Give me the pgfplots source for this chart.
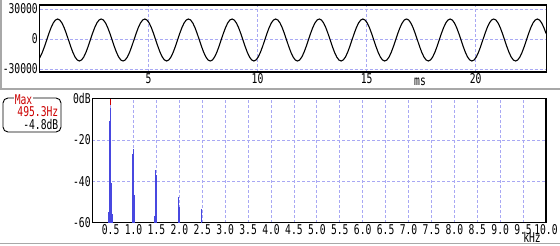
\documentclass[border=0pt]{standalone}
\usepackage{pgfplots}
\pgfplotsset{compat=1.18}
\usepackage{fontspec}
\newfontfamily\gfont{DejaVu Sans Mono}[FakeStretch=0.72]
\newcommand\lbl{\fontsize{13.5}{15}\gfont}
\definecolor{gridc}{HTML}{A8A8F4}
\definecolor{specc}{HTML}{4848E0}
\definecolor{maxred}{HTML}{CC0000}
\definecolor{panelg}{HTML}{A8A8A8}
\begin{document}
\begin{tikzpicture}
\fill[white] (0bp,0bp) rectangle (560bp,246bp);
\draw[panelg,line width=2bp] (0bp,156.5bp) -- (560bp,156.5bp);
\draw[panelg,line width=1.5bp] (0bp,2.5bp) -- (560bp,2.5bp);
\draw[panelg,line width=1.5bp] (0.75bp,156bp) -- (0.75bp,246bp);
% ---------- waveform ----------
\begin{axis}[
  at={(39.5bp,174bp)}, anchor=south west,
  scale only axis, width=507bp, height=67bp,
  xmin=0, xmax=23.25, ymin=-33000, ymax=34000,
  xtick={5,10,15,20}, xticklabels={5,10,15,20},
  ytick={-30000,0,30000}, yticklabels={-30000,0,30000},
  scaled ticks=false,
  tick style={draw=none},
  grid=major,
  major grid style={gridc, dash pattern=on 3bp off 2bp, line width=0.8bp},
  axis line style={line width=1.2bp},
  every tick label/.append style={font=\lbl, inner sep=1.5bp},
]
\addplot[black, line width=1.1bp] coordinates {
(0,-19080)
(0.03,-17990)(0.13,-13340)(0.23,-7490)(0.33,-1000)(0.43,5490)(0.53,11340)(0.63,15990)(0.73,18970)(0.83,20000)(0.93,18970)(1.03,15990)(1.13,11340)(1.23,5490)(1.33,-1000)(1.43,-7490)(1.53,-13340)(1.63,-17990)(1.73,-20970)(1.83,-22000)(1.93,-20970)
(2.03,-17990)(2.13,-13340)(2.23,-7490)(2.33,-1000)(2.43,5490)(2.53,11340)(2.63,15990)(2.73,18970)(2.83,20000)(2.93,18970)(3.03,15990)(3.13,11340)(3.23,5490)(3.33,-1000)(3.43,-7490)(3.53,-13340)(3.63,-17990)(3.73,-20970)(3.83,-22000)(3.93,-20970)
(4.03,-17990)(4.13,-13340)(4.23,-7490)(4.33,-1000)(4.43,5490)(4.53,11340)(4.63,15990)(4.73,18970)(4.83,20000)(4.93,18970)(5.03,15990)(5.13,11340)(5.23,5490)(5.33,-1000)(5.43,-7490)(5.53,-13340)(5.63,-17990)(5.73,-20970)(5.83,-22000)(5.93,-20970)
(6.03,-17990)(6.13,-13340)(6.23,-7490)(6.33,-1000)(6.43,5490)(6.53,11340)(6.63,15990)(6.73,18970)(6.83,20000)(6.93,18970)(7.03,15990)(7.13,11340)(7.23,5490)(7.33,-1000)(7.43,-7490)(7.53,-13340)(7.63,-17990)(7.73,-20970)(7.83,-22000)(7.93,-20970)
(8.03,-17990)(8.13,-13340)(8.23,-7490)(8.33,-1000)(8.43,5490)(8.53,11340)(8.63,15990)(8.73,18970)(8.83,20000)(8.93,18970)(9.03,15990)(9.13,11340)(9.23,5490)(9.33,-1000)(9.43,-7490)(9.53,-13340)(9.63,-17990)(9.73,-20970)(9.83,-22000)(9.93,-20970)
(10.03,-17990)(10.13,-13340)(10.23,-7490)(10.33,-1000)(10.43,5490)(10.53,11340)(10.63,15990)(10.73,18970)(10.83,20000)(10.93,18970)(11.03,15990)(11.13,11340)(11.23,5490)(11.33,-1000)(11.43,-7490)(11.53,-13340)(11.63,-17990)(11.73,-20970)(11.83,-22000)(11.93,-20970)
(12.03,-17990)(12.13,-13340)(12.23,-7490)(12.33,-1000)(12.43,5490)(12.53,11340)(12.63,15990)(12.73,18970)(12.83,20000)(12.93,18970)(13.03,15990)(13.13,11340)(13.23,5490)(13.33,-1000)(13.43,-7490)(13.53,-13340)(13.63,-17990)(13.73,-20970)(13.83,-22000)(13.93,-20970)
(14.03,-17990)(14.13,-13340)(14.23,-7490)(14.33,-1000)(14.43,5490)(14.53,11340)(14.63,15990)(14.73,18970)(14.83,20000)(14.93,18970)(15.03,15990)(15.13,11340)(15.23,5490)(15.33,-1000)(15.43,-7490)(15.53,-13340)(15.63,-17990)(15.73,-20970)(15.83,-22000)(15.93,-20970)
(16.03,-17990)(16.13,-13340)(16.23,-7490)(16.33,-1000)(16.43,5490)(16.53,11340)(16.63,15990)(16.73,18970)(16.83,20000)(16.93,18970)(17.03,15990)(17.13,11340)(17.23,5490)(17.33,-1000)(17.43,-7490)(17.53,-13340)(17.63,-17990)(17.73,-20970)(17.83,-22000)(17.93,-20970)
(18.03,-17990)(18.13,-13340)(18.23,-7490)(18.33,-1000)(18.43,5490)(18.53,11340)(18.63,15990)(18.73,18970)(18.83,20000)(18.93,18970)(19.03,15990)(19.13,11340)(19.23,5490)(19.33,-1000)(19.43,-7490)(19.53,-13340)(19.63,-17990)(19.73,-20970)(19.83,-22000)(19.93,-20970)
(20.03,-17990)(20.13,-13340)(20.23,-7490)(20.33,-1000)(20.43,5490)(20.53,11340)(20.63,15990)(20.73,18970)(20.83,20000)(20.93,18970)(21.03,15990)(21.13,11340)(21.23,5490)(21.33,-1000)(21.43,-7490)(21.53,-13340)(21.63,-17990)(21.73,-20970)(21.83,-22000)(21.93,-20970)
(22.03,-17990)(22.13,-13340)(22.23,-7490)(22.33,-1000)(22.43,5490)(22.53,11340)(22.63,15990)(22.73,18970)(22.83,20000)(22.93,18970)(23.03,15990)(23.13,11340)(23.23,5490)
};
\end{axis}
\node[font=\lbl] at (420bp,164bp) {ms};
% ---------- spectrum ----------
\begin{axis}[
  at={(92.3bp,23.3bp)}, anchor=south west,
  scale only axis, width=453.7bp, height=124.2bp,
  xmin=0.1, xmax=10, ymin=-60, ymax=0,
  xtick={0.5,1,1.5,2,2.5,3,3.5,4,4.5,5,5.5,6,6.5,7,7.5,8,8.5,9,9.5,10},
  xticklabels={0.5,1.0,1.5,2.0,2.5,3.0,3.5,4.0,4.5,5.0,5.5,6.0,6.5,7.0,7.5,8.0,8.5,9.0,9.5,10.0},
  ytick={-60,-40,-20,0}, yticklabels={-60,-40,-20,0dB},
  scaled ticks=false,
  tick style={draw=none},
  grid=major,
  major grid style={gridc, dash pattern=on 3bp off 2bp, line width=0.8bp},
  axis line style={line width=1.2bp},
  every tick label/.append style={font=\lbl, inner sep=1.5bp},
  unbounded coords=jump,
]
\addplot[specc, line width=1bp] coordinates {
(0.452,-60)(0.452,-55)(0.452,nan)
(0.474,-60)(0.474,-40)(0.474,nan)
(0.484,-60)(0.484,-11)(0.484,nan)
(0.495,-60)(0.495,-4.8)(0.495,nan)
(0.506,-60)(0.506,-13)(0.506,nan)
(0.517,-60)(0.517,-41)(0.517,nan)
(0.538,-60)(0.538,-56)(0.538,nan)
(0.980,-60)(0.980,-27)(0.980,nan)
(0.990,-60)(0.990,-24.5)(0.990,nan)
(1.001,-60)(1.001,-26)(1.001,nan)
(1.012,-60)(1.012,-46.5)(1.012,nan)
(1.464,-60)(1.464,-57)(1.464,nan)
(1.475,-60)(1.475,-36)(1.475,nan)
(1.486,-60)(1.486,-34.5)(1.486,nan)
(1.497,-60)(1.497,-37)(1.497,nan)
(1.981,-60)(1.981,-47.5)(1.981,nan)
(1.992,-60)(1.992,-52.5)(1.992,nan)
(2.477,-60)(2.477,-53.5)(2.477,nan)
(2.488,-60)(2.488,-56.5)
};
\addplot[maxred, line width=1bp] coordinates {(0.4953,0)(0.4953,-3)};
\end{axis}
\node[font=\lbl] at (532bp,9bp) {kHz};
% ---------- Max box ----------
\draw[black, line width=0.9bp, rounded corners=5bp] (3bp,114bp) rectangle (61bp,148bp);
\node[font=\lbl, text=maxred, fill=white, inner sep=1bp] at (23.5bp,146bp) {Max};
\node[font=\lbl, text=maxred, anchor=east, inner sep=0pt] at (58.5bp,134bp) {495.3Hz};
\node[font=\lbl, anchor=east, inner sep=0pt] at (58.5bp,122bp) {-4.8dB};
\pgfresetboundingbox
\useasboundingbox (0bp,0bp) rectangle (560bp,246bp);
\end{tikzpicture}
\end{document}
